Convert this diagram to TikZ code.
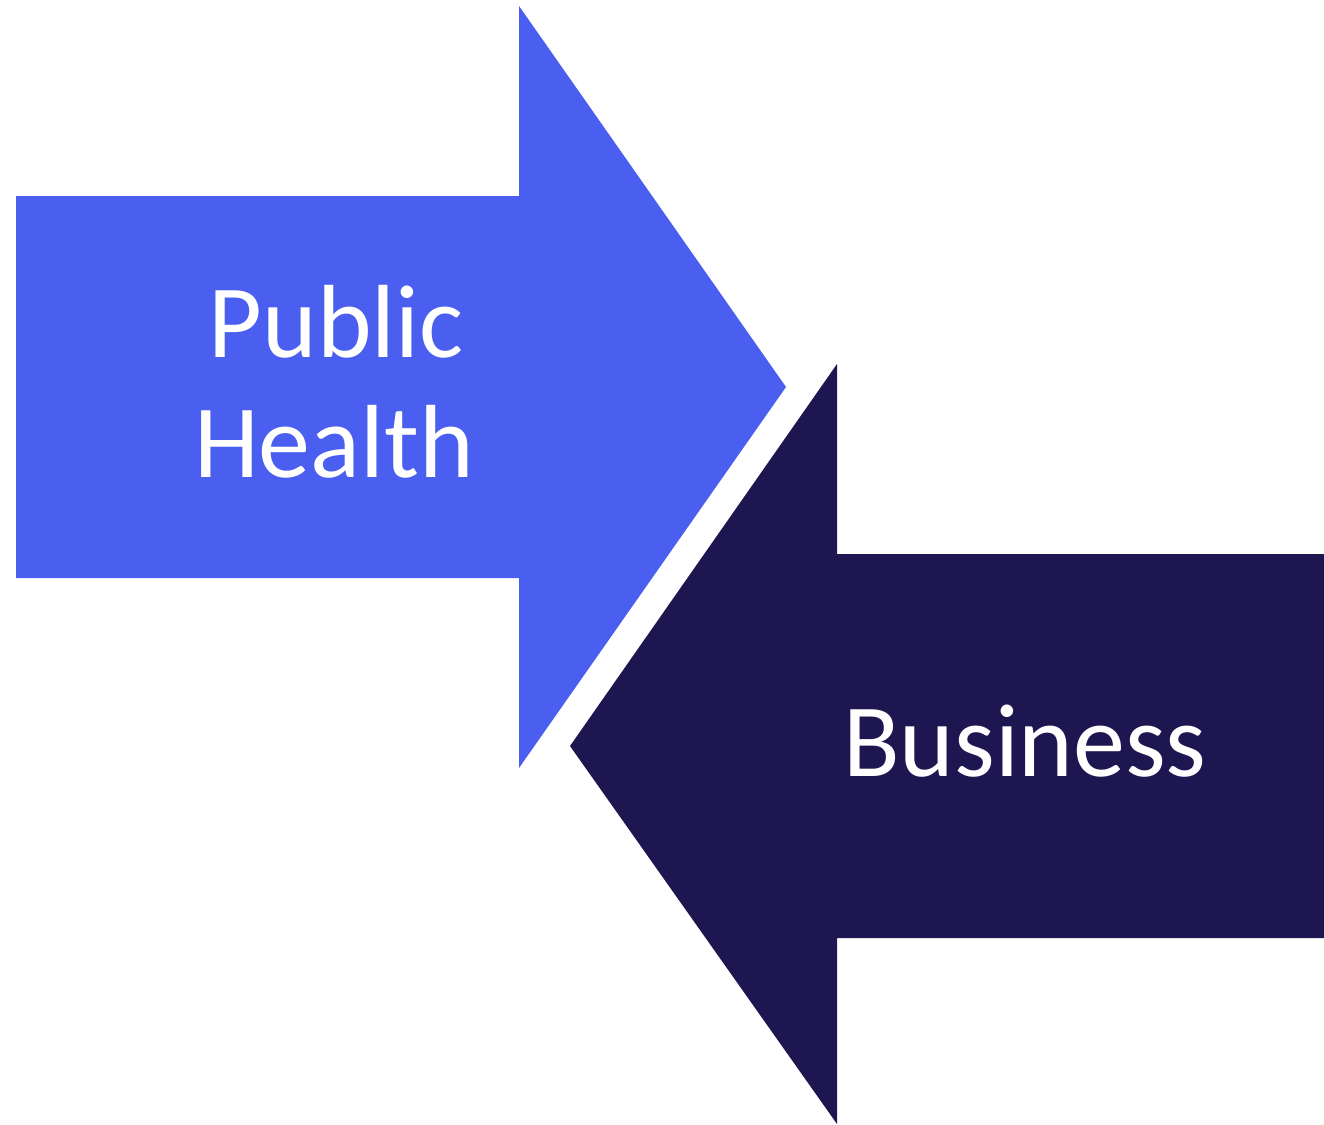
\documentclass[tikz,border=0pt]{standalone}
\usepackage{fontspec}
\setmainfont{Carlito}
\definecolor{blueA}{HTML}{4A5EEF}
\definecolor{navyA}{HTML}{1E1650}
\begin{document}
\begin{tikzpicture}[x=1pt,y=-1pt,
  lbl/.style={text=white,font=\fontsize{104}{120}\selectfont,anchor=base,inner sep=0pt}]
\useasboundingbox (0,0) rectangle (1324,1124);
\fill[blueA] (16,196) -- (519,196) -- (519,6) -- (786,387) -- (519,768) -- (519,578) -- (16,578) -- cycle;
\fill[navyA] (1324,554) -- (837,554) -- (837,364) -- (570,746) -- (837,1124) -- (837,938) -- (1324,938) -- cycle;
\node[lbl] (pub) at (336,357) {Public};
\node[lbl] (hea) at (334,477) {Health};
\node[lbl] (bus) at (1025,776) {Business};
\end{tikzpicture}
\end{document}
